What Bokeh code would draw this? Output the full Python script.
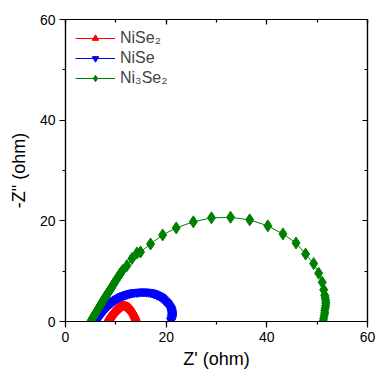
from bokeh.plotting import figure
from bokeh.models import LinearAxis, SingleIntervalTicker, Range1d, Legend, LegendItem
from bokeh.embed import file_html
from bokeh.resources import INLINE

labels = ["NiSe\u2082", "NiSe", "Ni\u2083Se\u2082"]

nise2_x = [8.3, 8.45, 8.6, 8.75, 8.9, 9.1, 9.3, 9.5, 9.7, 9.9, 10.1, 10.35, 10.6, 10.85, 11.1,
           11.35, 11.6, 11.85, 12.1, 12.35, 12.6, 12.8, 13.0, 13.2, 13.4, 13.55, 13.7, 13.8,
           13.9, 13.95, 14.0, 14.0, 14.0]
nise2_y = [0.1, 0.3, 0.5, 0.7, 0.9, 1.15, 1.4, 1.65, 1.9, 2.1, 2.3, 2.5, 2.7, 2.85, 2.95,
           3.0, 3.05, 3.0, 2.95, 2.85, 2.7, 2.5, 2.3, 2.05, 1.8, 1.55, 1.3, 1.05, 0.8, 0.6,
           0.4, 0.25, 0.1]

nise_x = [6.2, 6.35, 6.5, 6.65, 6.8, 7.0, 7.2, 7.4, 7.6, 7.8, 8.0, 8.25, 8.5, 8.75, 9.0, 9.3,
          9.6, 9.9, 10.2, 10.55, 10.9, 11.25, 11.6, 11.95, 12.3, 12.65, 13.0, 13.35, 13.7, 14.05,
          14.4, 14.75, 15.1, 15.45, 15.8, 16.15, 16.5, 16.85, 17.2, 17.5, 17.8, 18.1, 18.4, 18.7,
          19.0, 19.25, 19.5, 19.75, 20.0, 20.2, 20.4, 20.55, 20.7, 20.85, 21.0, 21.05, 21.1,
          21.15, 21.2, 21.2, 21.2, 21.15, 21.1, 21.05, 21.0]
nise_y = [0.1, 0.35, 0.6, 0.85, 1.1, 1.35, 1.6, 1.85, 2.1, 2.35, 2.6, 2.85, 3.1, 3.35, 3.6, 3.85,
          4.1, 4.3, 4.5, 4.7, 4.9, 5.05, 5.2, 5.3, 5.45, 5.55, 5.65, 5.72, 5.8, 5.82, 5.85, 5.88,
          5.9, 5.9, 5.9, 5.88, 5.85, 5.78, 5.7, 5.6, 5.5, 5.35, 5.2, 5.05, 4.85, 4.65, 4.4, 4.15,
          3.9, 3.65, 3.4, 3.15, 2.9, 2.65, 2.4, 2.15, 1.9, 1.65, 1.4, 1.15, 0.9, 0.65, 0.4, 0.25, 0.1]

ni3se2_x = [5.0, 5.15, 5.3, 5.45, 5.6, 5.75, 5.9, 6.05, 6.2, 6.35, 6.5, 6.65, 6.8, 6.95, 7.1,
            7.25, 7.4, 7.55, 7.7, 7.85, 8.0, 8.2, 8.4, 8.6, 8.8, 9.0, 9.2, 9.4, 9.6, 9.85, 10.1,
            10.4, 10.7, 11.0, 11.3, 12.2, 13.2, 14.2, 14.9, 16.9, 19.3, 22.0, 25.4, 29.0, 32.8,
            36.6, 40.2, 43.2, 45.8, 47.7, 49.3, 50.3, 51.0, 51.3, 51.5, 51.6, 51.7, 51.7, 51.7,
            51.6, 51.5, 51.5, 51.4, 51.3, 51.2]
ni3se2_y = [0.0, 0.25, 0.5, 0.75, 1.0, 1.25, 1.5, 1.75, 2.0, 2.25, 2.5, 2.75, 3.0, 3.25, 3.5,
            3.75, 4.0, 4.25, 4.5, 4.75, 5.0, 5.3, 5.6, 5.9, 6.2, 6.5, 6.8, 7.15, 7.5, 7.9, 8.3,
            8.75, 9.2, 9.65, 10.1, 11.1, 12.5, 13.6, 13.8, 15.4, 17.2, 18.6, 19.8, 20.6, 20.7,
            20.2, 19.0, 17.4, 15.6, 13.4, 11.5, 9.6, 7.8, 6.3, 5.2, 4.7, 4.2, 3.7, 3.2, 2.7,
            2.2, 1.7, 1.2, 0.6, 0.1]

x_ticks_interval = 20
FONT = "Liberation Sans"

p = figure(width=378, height=378, output_backend="svg", toolbar_location=None,
           x_range=Range1d(0, 60), y_range=Range1d(0, 60),
           min_border_left=65, min_border_right=11, min_border_top=19, min_border_bottom=57,
           x_axis_label="Z' (ohm)", y_axis_label='-Z" (ohm)')
p.xgrid.visible = False
p.ygrid.visible = False
p.outline_line_color = "black"
p.outline_line_width = 1.2
p.background_fill_color = "white"
p.border_fill_color = "white"

for ax in [p.xaxis[0], p.yaxis[0]]:
    ax.ticker = SingleIntervalTicker(interval=x_ticks_interval, num_minor_ticks=2)
    ax.major_tick_in = 0
    ax.major_tick_out = 6
    ax.minor_tick_in = 0
    ax.minor_tick_out = 3
    ax.axis_line_width = 1.2
    ax.major_tick_line_width = 1.2
    ax.minor_tick_line_width = 1.2
    ax.major_label_text_font = FONT
    ax.major_label_text_font_size = "14px"
    ax.major_label_text_color = "black"
    ax.axis_label_text_font = FONT
    ax.axis_label_text_font_size = "18px"
    ax.axis_label_text_font_style = "normal"
    ax.axis_label_text_color = "black"
    ax.major_label_standoff = 4
p.xaxis[0].axis_label_standoff = 4
p.yaxis[0].axis_label_standoff = 8
p.yaxis[0].major_label_orientation = "horizontal"

for loc in ["above", "right"]:
    a = LinearAxis(ticker=SingleIntervalTicker(interval=x_ticks_interval, num_minor_ticks=2),
                   major_label_text_font_size="0px", major_tick_in=5, major_tick_out=0,
                   minor_tick_in=3, minor_tick_out=0, axis_line_width=1.2,
                   major_tick_line_width=1.2, minor_tick_line_width=1.2)
    a.major_label_text_alpha = 0
    p.add_layout(a, loc)

r1l = p.line(nise2_x, nise2_y, line_color="red", line_width=1)
r1m = p.scatter(nise2_x, nise2_y, marker="triangle", size=9, fill_color="red", line_color="red")
r2l = p.line(nise_x, nise_y, line_color="blue", line_width=1)
r2m = p.scatter(nise_x, nise_y, marker="inverted_triangle", size=9, fill_color="blue", line_color="blue")
r3l = p.line(ni3se2_x, ni3se2_y, line_color="green", line_width=1)
r3m = p.scatter(ni3se2_x, ni3se2_y, marker="diamond", size=12, fill_color="green", line_color="green")

legend = Legend(items=[LegendItem(label=labels[0], renderers=[r1l, r1m]),
                       LegendItem(label=labels[1], renderers=[r2l, r2m]),
                       LegendItem(label=labels[2], renderers=[r3l, r3m])],
                location="top_left", border_line_alpha=0, background_fill_alpha=0,
                label_text_font=FONT, label_text_font_size="16px",
                glyph_width=40, glyph_height=16, spacing=2, padding=4, margin=6,
                label_standoff=5)
p.add_layout(legend, "center")

open("out.html", "w").write(file_html(p, INLINE))
